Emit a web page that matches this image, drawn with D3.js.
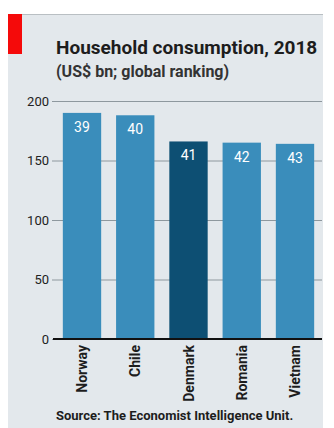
<!DOCTYPE html>
<html>
<head>
<meta charset="utf-8">
<script src="https://cdn.jsdelivr.net/npm/d3@7"></script>
<style>
  html, body { margin: 0; padding: 0; background: #ffffff; }
  svg { display: block; }
  text { font-family: Roboto, "DejaVu Sans", sans-serif; }
</style>
</head>
<body>
<svg id="chart" width="334" height="428"></svg>
<script>
// Household consumption by country, US$ bn, with global ranking
const countries = ["Norway", "Chile", "Denmark", "Romania", "Vietnam"];
const consumption = [190, 188, 166, 165, 164];
const rankings = [39, 40, 41, 42, 43];
const highlighted = ["Denmark"];
const yTicks = [0, 50, 100, 150, 200];

const svg = d3.select("#chart");

// panel background
svg.append("rect")
  .attr("x", 8).attr("y", 14).attr("width", 315).attr("height", 414)
  .attr("fill", "#e3e8ec");
svg.append("line")
  .attr("x1", 8).attr("x2", 323).attr("y1", 14.5).attr("y2", 14.5)
  .attr("stroke", "#b9bfc3").attr("stroke-width", 1);
// red tag
svg.append("rect")
  .attr("x", 8).attr("y", 14).attr("width", 14).attr("height", 40)
  .attr("fill", "#f50a0a");

svg.append("text")
  .attr("x", 56).attr("y", 54)
  .attr("font-size", 19).attr("font-weight", "bold").attr("fill", "#1d1d1d")
  .text("Household consumption, 2018");
svg.append("text")
  .attr("x", 56).attr("y", 77)
  .attr("font-size", 16).attr("font-weight", "bold").attr("fill", "#333333")
  .text("(US$ bn; global ranking)");

const x = d3.scaleBand()
  .domain(countries)
  .range([55, 322])
  .paddingInner(0.28)
  .paddingOuter(0.147);

const y = d3.scaleLinear()
  .domain([0, 200])
  .range([339, 101]);

// gridlines + tick labels
const yAxis = d3.axisLeft(y)
  .tickValues(yTicks)
  .tickSize(-(322 - 52))
  .tickPadding(3)
  .tickFormat(d3.format("d"));

const gy = svg.append("g")
  .attr("transform", "translate(52,0)")
  .call(yAxis);
gy.select(".domain").remove();
gy.selectAll(".tick line")
  .attr("stroke", "#8e989e")
  .attr("stroke-width", 1);
gy.selectAll(".tick text")
  .attr("font-size", 13)
  .attr("fill", "#222222")
  .attr("font-family", "Roboto, sans-serif");

// bars
svg.append("g")
  .selectAll("rect")
  .data(countries)
  .join("rect")
  .attr("x", d => x(d))
  .attr("width", x.bandwidth())
  .attr("y", (d, i) => y(consumption[i]))
  .attr("height", (d, i) => y(0) - y(consumption[i]))
  .attr("fill", d => highlighted.includes(d) ? "#0d4f73" : "#3a8dbb");

// ranking labels inside bars
svg.append("g")
  .selectAll("text")
  .data(countries)
  .join("text")
  .attr("x", d => x(d) + x.bandwidth() / 2)
  .attr("y", (d, i) => y(consumption[i]) + 19)
  .attr("text-anchor", "middle")
  .attr("font-size", 14)
  .attr("fill", "#ffffff")
  .text((d, i) => rankings[i]);

// zero baseline
svg.append("line")
  .attr("x1", 53).attr("x2", 322)
  .attr("y1", y(0)).attr("y2", y(0))
  .attr("stroke", "#111111").attr("stroke-width", 2);

// category labels, rotated
svg.append("g")
  .selectAll("text")
  .data(countries)
  .join("text")
  .attr("transform", d => `translate(${x(d) + x.bandwidth() / 2 + 5},${y(0) + 6}) rotate(-90)`)
  .attr("text-anchor", "end")
  .attr("font-size", 14)
  .attr("font-weight", "bold")
  .attr("fill", "#1d1d1d")
  .text(d => d);

svg.append("text")
  .attr("x", 56).attr("y", 420)
  .attr("font-size", 13).attr("font-weight", "bold").attr("fill", "#1d1d1d")
  .text("Source: The Economist Intelligence Unit.");
</script>
</body>
</html>
